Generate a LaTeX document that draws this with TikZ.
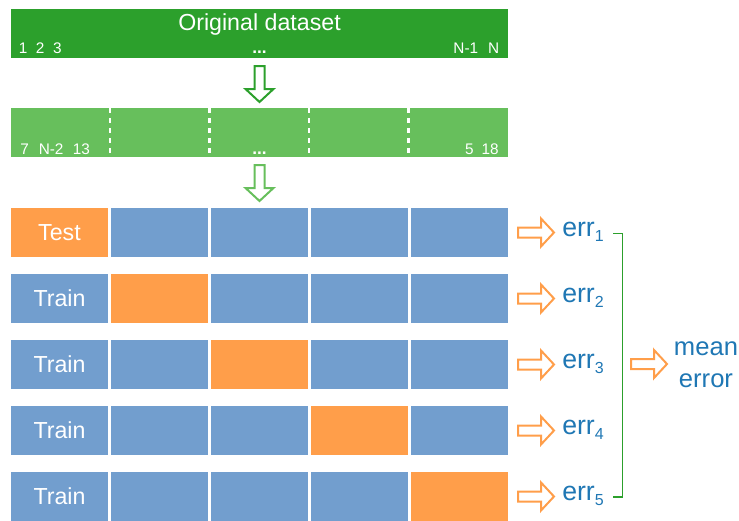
\documentclass[tikz,border=0pt]{standalone}
\usepackage{fontspec}
\setmainfont{Liberation Sans}
\usepackage{xcolor}
\usetikzlibrary{positioning}

\definecolor{dgreen}{RGB}{44,160,44}
\definecolor{lgreen}{RGB}{103,191,92}
\definecolor{cblue}{RGB}{114,158,206}
\definecolor{corange}{RGB}{255,158,74}
\definecolor{tblue}{RGB}{31,119,180}

\newcommand{\errsub}[1]{\raisebox{-3.75pt}{\fontsize{12}{13}\selectfont #1}}

\tikzset{
  blockarrow/.pic={
    \draw[line width=1.5pt, fill=white, line join=miter]
      (0,-5) -- (23,-5) -- (23,-14) -- (36,0) -- (23,14) -- (23,5) -- (0,5) -- cycle;
  }
}

\begin{document}
\begin{tikzpicture}[x=0.75pt,y=-0.75pt,
  bar/.style={minimum width=372.75pt,minimum height=36.75pt,inner sep=0pt},
  cell/.style={minimum width=72.75pt,minimum height=36.75pt,inner sep=0pt},
  bigtext/.style={text=white,inner sep=0pt,font=\fontsize{17.4}{20}\selectfont},
  smalltext/.style={text=white,inner sep=0pt,font=\fontsize{11.5}{13}\selectfont},
  dotstext/.style={text=white,inner sep=0pt,font=\fontsize{13}{14}\selectfont\bfseries},
  errtext/.style={text=tblue,inner sep=0pt,font=\fontsize{20}{24}\selectfont},
  bracket/.style={dgreen,line width=1.1pt}]

  \useasboundingbox (0,0) rectangle (739,521);

  % original dataset
  \node[bar,fill=dgreen] (orig) at (259.5,33.5) {};
  \node[bigtext,anchor=base] (title) at (259.5,31) {Original dataset};
  \node[smalltext,anchor=base west] (idx-a) at (18.5,53) {1\hspace{6.5pt}2\hspace{6.5pt}3};
  \node[dotstext,anchor=base] (dots-a) at (259.5,53) {...};
  \node[smalltext,anchor=base east] (idx-b) at (499.5,53) {N-1\hspace{7.5pt}N};

  \pic[dgreen,rotate=-90] at (259.5,66) {blockarrow};

  % shuffled and split
  \node[bar,fill=lgreen] (shuf) at (259.5,132.5) {};
  \foreach \i in {0,...,3}
    \draw[white,line width=2pt,dash pattern=on 3.75pt off 3.75pt]
      ({110+99.5*\i},108) -- ({110+99.5*\i},157);
  \node[smalltext,anchor=base west] (idx-c) at (20,154) {7\hspace{7.5pt}N-2\hspace{7pt}13};
  \node[dotstext,anchor=base] (dots-b) at (259.5,154) {...};
  \node[smalltext,anchor=base east] (idx-d) at (499,154) {5\hspace{6pt}18};

  \pic[lgreen,rotate=-90] at (259.5,165) {blockarrow};

  % folds
  \foreach \r in {1,...,5} {
    \foreach \c in {1,...,5} {
      \ifnum\r=\c \def\cellcol{corange}\else\def\cellcol{cblue}\fi
      \node[cell,fill=\cellcol] (c-\r-\c) at ({59.5+100*(\c-1)},{232.5+66*(\r-1)}) {};
    }
    \pic[corange] at (518,{232.5+66*(\r-1)}) {blockarrow};
    \node[errtext,anchor=base west] (err-\r) at (562,{236.7+66*(\r-1)}) {err\errsub{\r}};
  }
  \node[bigtext] (lab-1) at (c-1-1) {Test};
  \foreach \r in {2,...,5}
    \node[bigtext] (lab-\r) at (c-\r-1) {Train};

  % mean
  \coordinate (b-top) at (613,233.5);
  \coordinate (b-bot) at (613,497);
  \draw[bracket] (b-top) -- ++(9.5,0) |- (b-bot);
  \pic[corange] at (631,364) {blockarrow};
  \node[errtext,anchor=base,font=\fontsize{19.2}{24}\selectfont] (mean) at (706,355) {mean};
  \node[errtext,anchor=base,font=\fontsize{19.2}{24}\selectfont] (error) at (706,387) {error};

\end{tikzpicture}
\end{document}
